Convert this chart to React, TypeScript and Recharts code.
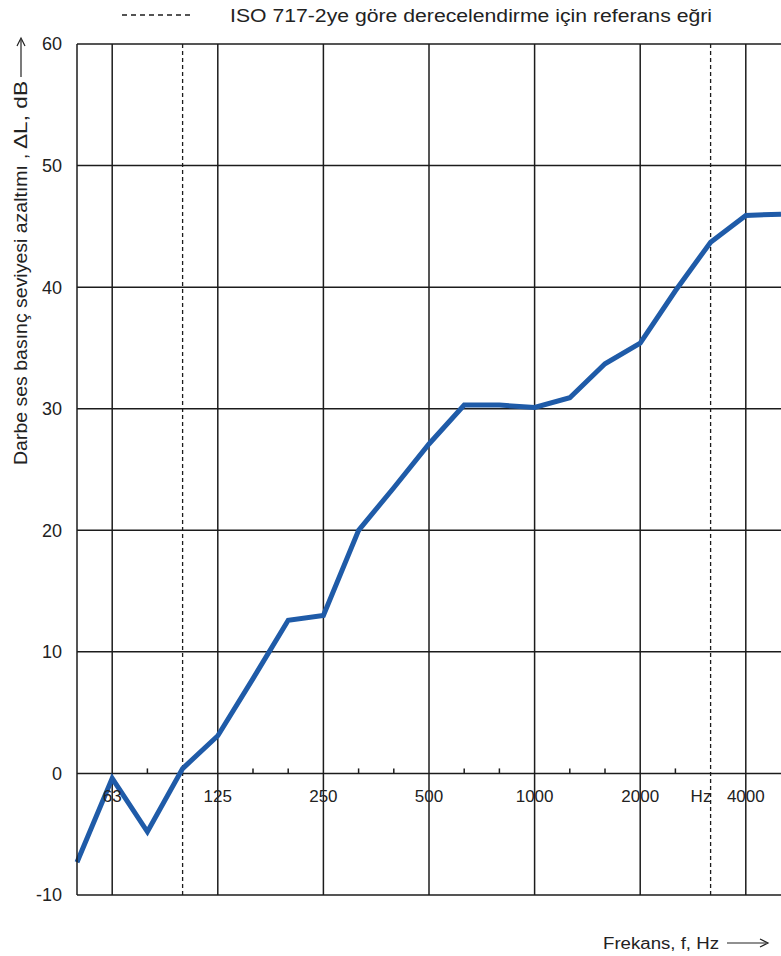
import { LineChart, Line, XAxis, YAxis, CartesianGrid, ReferenceLine, ReferenceDot } from "recharts";

// third-octave bands, 50 Hz .. 5000 Hz
const bands = ["50", "63", "80", "100", "125", "160", "200", "250", "315", "400", "500", "630", "800", "1000", "1250", "1600", "2000", "2500", "3150", "4000", "5000"];
const reduction = [-7.3, -0.4, -4.8, 0.4, 3.1, 7.8, 12.6, 13.0, 20.0, 23.5, 27.1, 30.3, 30.3, 30.1, 30.9, 33.7, 35.4, 39.7, 43.7, 45.9, 46.0];
const octaveBands = ["63", "125", "250", "500", "1000", "2000", "4000"];
const referenceBands = ["100", "3150"];
const minorBands = ["80", "160", "200", "315", "400", "630", "800", "1250", "1600", "2500"];
const yTicks = [-10, 0, 10, 20, 30, 40, 50, 60];

const FONT = "'Liberation Sans', Arial, sans-serif";
const INK = "#1c1c1c";
const labelStyle = { fontFamily: FONT, fontSize: 17, fill: "#222" };

const data = bands.map((b, i) => ({ idx: i, band: b, value: reduction[i] }));
const idxOf = (b: string) => bands.indexOf(b);

export default function App() {
  return (
    <div style={{ position: "relative", width: 781, height: 956, background: "#fff", fontFamily: FONT }}>
      <style>{"body{margin:0;overflow:hidden}"}</style>
      <LineChart width={781} height={956} data={data} margin={{ top: 44, right: 0, bottom: 61, left: 0 }}>
        <CartesianGrid vertical={false} stroke={INK} strokeWidth={1.5} />
        <XAxis type="number" dataKey="idx" domain={[0, 20]} hide />
        <YAxis
          type="number"
          domain={[-10, 60]}
          ticks={yTicks}
          width={77}
          tickSize={0}
          tickMargin={15}
          axisLine={{ stroke: INK, strokeWidth: 1.5 }}
          tick={{ fill: "#222", fontSize: 18, fontFamily: FONT }}
        />
        {octaveBands.map((b) => (
          <ReferenceLine key={b} x={idxOf(b)} stroke={INK} strokeWidth={1.5} />
        ))}
        {referenceBands.map((b) => (
          <ReferenceLine key={b} x={idxOf(b)} stroke={INK} strokeWidth={1.3} strokeDasharray="4 3" />
        ))}
        {minorBands.map((b) => (
          <ReferenceDot
            key={b}
            x={idxOf(b)}
            y={0}
            r={0}
            shape={(p: any) => <line x1={p.cx} x2={p.cx} y1={p.cy - 5} y2={p.cy} stroke={INK} strokeWidth={1.5} />}
          />
        ))}
        {octaveBands.map((b) => (
          <ReferenceDot
            key={"l" + b}
            x={idxOf(b)}
            y={0}
            r={0}
            shape={(p: any) => (
              <text x={p.cx} y={p.cy + 29} textAnchor="middle" style={labelStyle}>
                {b}
              </text>
            )}
          />
        ))}
        <Line
          type="linear"
          dataKey="value"
          stroke="#1f5ba8"
          strokeWidth={5}
          dot={false}
          isAnimationActive={false}
        />
      </LineChart>
      <svg width={781} height={956} style={{ position: "absolute", left: 0, top: 0, pointerEvents: "none" }}>
        {/* legend */}
        <line x1={122} x2={190} y1={15} y2={15} stroke={INK} strokeWidth={1.3} strokeDasharray="5 4" />
        <text x={230} y={22} style={{ ...labelStyle, fontSize: 18 }} textLength={482} lengthAdjust="spacingAndGlyphs">
          ISO 717-2ye göre derecelendirme için referans eğri
        </text>
        {/* Hz unit on the axis */}
        <text x={701} y={802} textAnchor="middle" style={labelStyle}>Hz</text>
        {/* y-axis title */}
        <g transform="translate(27,465) rotate(-90)">
          <text x={0} y={0} style={{ ...labelStyle, fontSize: 18 }} textLength={300} lengthAdjust="spacingAndGlyphs">
            Darbe ses basınç seviyesi azaltımı
          </text>
          <text x={306} y={0} style={{ ...labelStyle, fontSize: 18 }}>,</text>
          <text x={316} y={0} style={{ ...labelStyle, fontSize: 18 }} textLength={68} lengthAdjust="spacingAndGlyphs">ΔL, dB</text>
          <line x1={388} x2={425} y1={-6} y2={-6} stroke="#222" strokeWidth={1.2} />
          <path d="M419,-10 L427,-6 L419,-2" fill="none" stroke="#222" strokeWidth={1.2} />
        </g>
        {/* x-axis title */}
        <text x={603} y={949} style={{ ...labelStyle, fontSize: 16 }} textLength={116} lengthAdjust="spacingAndGlyphs">
          Frekans, f, Hz
        </text>
        <line x1={727} x2={766} y1={943} y2={943} stroke="#222" strokeWidth={1.2} />
        <path d="M760,939 L768,943 L760,947" fill="none" stroke="#222" strokeWidth={1.2} />
      </svg>
    </div>
  );
}
